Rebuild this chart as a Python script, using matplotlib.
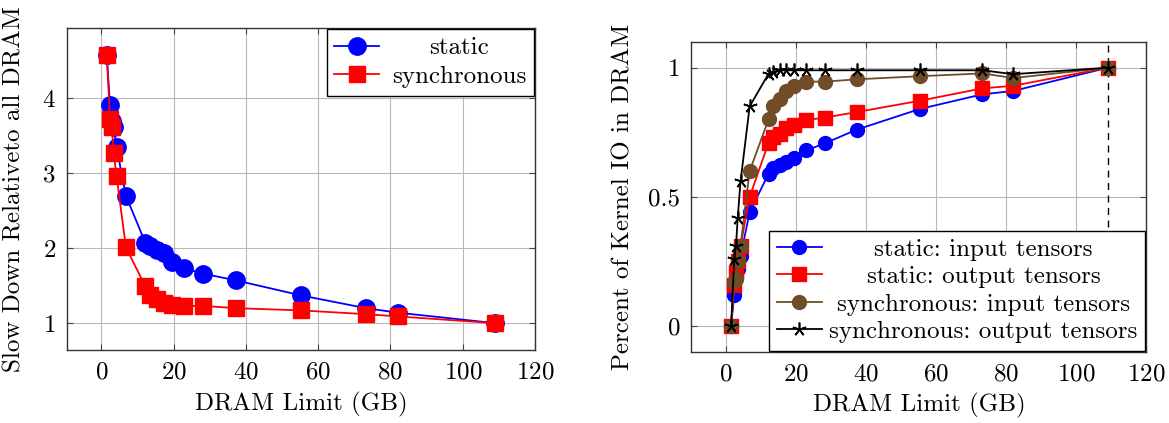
import matplotlib
matplotlib.use("Agg")
import matplotlib.pyplot as plt

plt.rcParams['font.family'] = 'cmr10'
plt.rcParams['mathtext.fontset'] = 'cm'
plt.rcParams['axes.formatter.use_mathtext'] = True
plt.rcParams['font.size'] = 18

# DRAM limit (GB) for each run
dram = [1.5, 2.4, 2.9, 3.4, 4.2, 6.8, 12.2, 13.6, 15.5, 17.3, 19.5, 23.0,
        28.2, 37.3, 55.3, 73.2, 82.0, 109.0]

# slow down relative to all-DRAM
slow_static = [4.58, 3.91, 3.70, 3.62, 3.35, 2.70, 2.07, 2.03, 1.97, 1.94,
               1.81, 1.73, 1.66, 1.57, 1.37, 1.20, 1.14, 1.00]
slow_sync = [4.58, 3.73, 3.62, 3.27, 2.97, 2.01, 1.49, 1.38, 1.32, 1.27,
             1.24, 1.23, 1.23, 1.20, 1.17, 1.12, 1.09, 1.00]

# fraction of kernel IO served from DRAM
io_static_in = [0.0, 0.12, 0.19, 0.22, 0.27, 0.44, 0.59, 0.61, 0.625, 0.636,
                0.65, 0.68, 0.707, 0.76, 0.84, 0.897, 0.91, 1.0]
io_static_out = [0.0, 0.16, 0.21, 0.25, 0.31, 0.50, 0.71, 0.73, 0.745, 0.765,
                 0.78, 0.797, 0.807, 0.828, 0.872, 0.92, 0.93, 1.0]
io_sync_in = [0.0, 0.17, 0.18, 0.25, 0.31, 0.60, 0.80, 0.85, 0.88, 0.91,
              0.93, 0.946, 0.946, 0.955, 0.967, 0.978, 0.96, 1.0]
io_sync_out = [0.0, 0.26, 0.31, 0.42, 0.56, 0.85, 0.977, 0.985, 0.99, 0.99,
               0.99, 0.99, 0.99, 0.99, 0.99, 0.99, 0.975, 1.0]

xticks = [0, 20, 40, 60, 80, 100, 120]
brown = '#704c28'


def style(ax):
    ax.grid(True, color='#b8b8b8', lw=0.8)
    ax.set_axisbelow(True)
    ax.tick_params(direction='in', top=True, right=True, length=4,
                   width=0.8, color='#444444', pad=8)
    for s in ax.spines.values():
        s.set_linewidth(1.0)
        s.set_color('#333333')
    ax.set_xticks(xticks)
    ax.set_xlabel('DRAM Limit (GB)', labelpad=6)


def center_legend(fig, leg):
    fig.canvas.draw()
    texts = leg.get_texts()
    widths = [t.get_window_extent().width for t in texts]
    wmax = max(widths)
    for t, w in zip(texts, widths):
        t.set_x((wmax - w) / 2)


fig = plt.figure(figsize=(11.69, 4.23), dpi=100)
ax1 = fig.add_axes([0.0573, 0.1726, 0.4004, 0.7612])
ax2 = fig.add_axes([0.5915, 0.1683, 0.3892, 0.7327])

# left: slow down
ax1.plot(dram, slow_static, color='blue', lw=1.3, marker='o', ms=12.5,
         label='static')
ax1.plot(dram, slow_sync, color='red', lw=1.3, marker='s', ms=11.5,
         label='synchronous')
style(ax1)
ax1.set_xlim(-9.5, 120)
ax1.set_ylim(0.642, 4.938)
ax1.set_yticks([1, 2, 3, 4])
ax1.set_ylabel('Slow Down Relativeto all DRAM', labelpad=12)
leg1 = ax1.legend(loc='upper right', borderaxespad=0.05, fancybox=False,
                  edgecolor='black', framealpha=1, handlelength=1.8,
                  labelspacing=0.25, borderpad=0.3, handletextpad=0.5)
leg1.get_frame().set_linewidth(1.0)

# right: share of kernel IO in DRAM
ax2.axvline(dram[-1], color='black', lw=1.0, ls=(0, (5, 4)))
ax2.plot(dram, io_static_in, color='blue', lw=1.3, marker='o', ms=10,
         label='static: input tensors')
ax2.plot(dram, io_static_out, color='red', lw=1.3, marker='s', ms=10,
         label='static: output tensors')
ax2.plot(dram, io_sync_in, color=brown, lw=1.3, marker='o', ms=10,
         label='synchronous: input tensors')
ax2.plot(dram, io_sync_out, color='black', lw=1.3, marker=(5, 2, 0), ms=10,
         mew=1.2, label='synchronous: output tensors')
style(ax2)
ax2.set_xlim(-9.8, 120)
ax2.set_ylim(-0.1, 1.1)
ax2.set_yticks([0, 0.5, 1])
ax2.set_yticklabels(['0', '0.5', '1'])
ax2.set_ylabel('Percent of Kernel IO in DRAM', labelpad=10)
leg2 = ax2.legend(loc='lower right', borderaxespad=0.05, fancybox=False,
                  edgecolor='black', framealpha=1, handlelength=1.8,
                  labelspacing=0.2, borderpad=0.3, handletextpad=0.3)
leg2.get_frame().set_linewidth(1.0)

center_legend(fig, leg1)
center_legend(fig, leg2)

fig.savefig('out.png', dpi=100)
